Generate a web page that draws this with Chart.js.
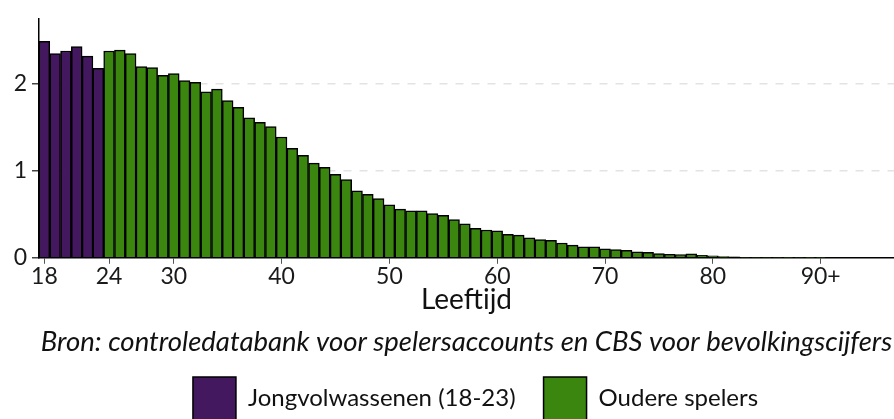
<!DOCTYPE html>
<html>
<head>
<meta charset="utf-8">
<script src="https://cdn.jsdelivr.net/npm/chart.js@4"></script>
<style>
  html, body { margin: 0; padding: 0; background: #fff; overflow: hidden; }
  #wrap { width: 894px; height: 430px; }
</style>
</head>
<body>
<div id="wrap"><canvas id="chart"></canvas></div>
<script>
// leeftijden 18 t/m 23 (jongvolwassenen) en 24 t/m 90+ (oudere spelers)
const youngAges = [18, 19, 20, 21, 22, 23];
const youngValues = [2.49, 2.35, 2.38, 2.43, 2.32, 2.18];

const olderAges = [
  24, 25, 26, 27, 28, 29, 30, 31, 32, 33, 34, 35, 36, 37, 38, 39,
  40, 41, 42, 43, 44, 45, 46, 47, 48, 49, 50, 51, 52, 53, 54, 55, 56, 57,
  58, 59, 60, 61, 62, 63, 64, 65, 66, 67, 68, 69, 70, 71, 72, 73, 74, 75,
  76, 77, 78, 79, 80, 81, 82, 83, 84, 85, 86, 87, 88, 89, 90
];
const olderValues = [
  2.38, 2.39, 2.35, 2.20, 2.19, 2.10, 2.12, 2.04, 2.02, 1.91, 1.94, 1.81,
  1.73, 1.61, 1.56, 1.51, 1.39, 1.26, 1.18, 1.09, 1.04, 0.96, 0.90, 0.77,
  0.73, 0.68, 0.61, 0.56, 0.54, 0.54, 0.51, 0.49, 0.44, 0.39, 0.34, 0.32,
  0.31, 0.27, 0.26, 0.23, 0.21, 0.20, 0.17, 0.145, 0.126, 0.126, 0.104, 0.096,
  0.085, 0.07, 0.063, 0.048, 0.04, 0.037, 0.045, 0.029, 0.022, 0.015, 0.01,
  0.008, 0.006, 0.006, 0.006, 0.005, 0.006, 0.004, 0.005
];

const xTicks = [18, 24, 30, 40, 50, 60, 70, 80, 90];
const yTicks = [0, 1, 2];

const FONT = "Lato, sans-serif";

const toPoints = (xs, ys) => xs.map((x, i) => ({ x: x, y: ys[i] }));

// legenda staat in het origineel iets rechts van het midden
const legendShift = {
  id: 'legendShift',
  afterLayout(chart) {
    chart.legend.left += 9;
    chart.legend.right += 9;
  }
};

new Chart(document.getElementById('chart'), {
  type: 'bar',
  data: {
    datasets: [{
      label: 'Jongvolwassenen (18-23)',
      data: toPoints(youngAges, youngValues),
      backgroundColor: '#44185f',
      borderColor: '#000',
      borderWidth: 1.5,
      grouped: false,
      barPercentage: 1,
      categoryPercentage: 1
    }, {
      label: 'Oudere spelers',
      data: toPoints(olderAges, olderValues),
      backgroundColor: '#3b860f',
      borderColor: '#000',
      borderWidth: 1.5,
      grouped: false,
      barPercentage: 1,
      categoryPercentage: 1
    }]
  },
  options: {
    responsive: true,
    maintainAspectRatio: false,
    animation: false,
    layout: { padding: { top: 12, left: 0, right: 0, bottom: 0 } },
    scales: {
      x: {
        type: 'linear',
        offset: false,
        min: 17.5,
        max: 96.8,
        afterBuildTicks: axis => { axis.ticks = xTicks.map(v => ({ value: v })); },
        ticks: {
          color: '#1a1a1a',
          font: { family: FONT, size: 23 },
          padding: -1,
          maxRotation: 0,
          autoSkip: false,
          callback: v => v === 90 ? '90+' : String(v)
        },
        grid: { display: true, offset: false, drawOnChartArea: false, drawTicks: true, tickLength: 6, tickColor: '#555' },
        border: { display: true, color: '#000', width: 1.5 },
        title: {
          display: true,
          text: 'Leeftijd',
          color: '#111',
          font: { family: FONT, size: 28 },
          padding: { top: -6, bottom: 0 }
        }
      },
      y: {
        min: 0,
        max: 2.75,
        afterBuildTicks: axis => { axis.ticks = yTicks.map(v => ({ value: v })); },
        afterFit: axis => { axis.width = 39; },
        ticks: {
          color: '#1a1a1a',
          font: { family: FONT, size: 23 },
          padding: 5
        },
        grid: {
          color: ctx => ctx.tick && ctx.tick.value === 0 ? 'rgba(0,0,0,0)' : '#e3e3e3',
          lineWidth: 1.5,
          tickColor: '#444',
          tickLength: 7,
          drawTicks: true
        },
        border: { display: true, color: '#000', width: 1.5, dash: [8, 8] }
      }
    },
    plugins: {
      tooltip: { enabled: false },
      title: {
        display: true,
        position: 'bottom',
        fullSize: false,
        weight: 500,
        text: 'Bron: controledatabank voor spelersaccounts en CBS voor bevolkingscijfers',
        color: '#111',
        font: { family: FONT, size: 27.5, style: 'italic', weight: 'normal' },
        padding: { top: 9, bottom: -10 }
      },
      legend: {
        position: 'bottom',
        fullSize: false,
        labels: {
          boxWidth: 43,
          boxHeight: 43,
          padding: 28,
          color: '#111',
          font: { family: FONT, size: 24 }
        }
      }
    }
  },
  plugins: [legendShift]
});
</script>
</body>
</html>
